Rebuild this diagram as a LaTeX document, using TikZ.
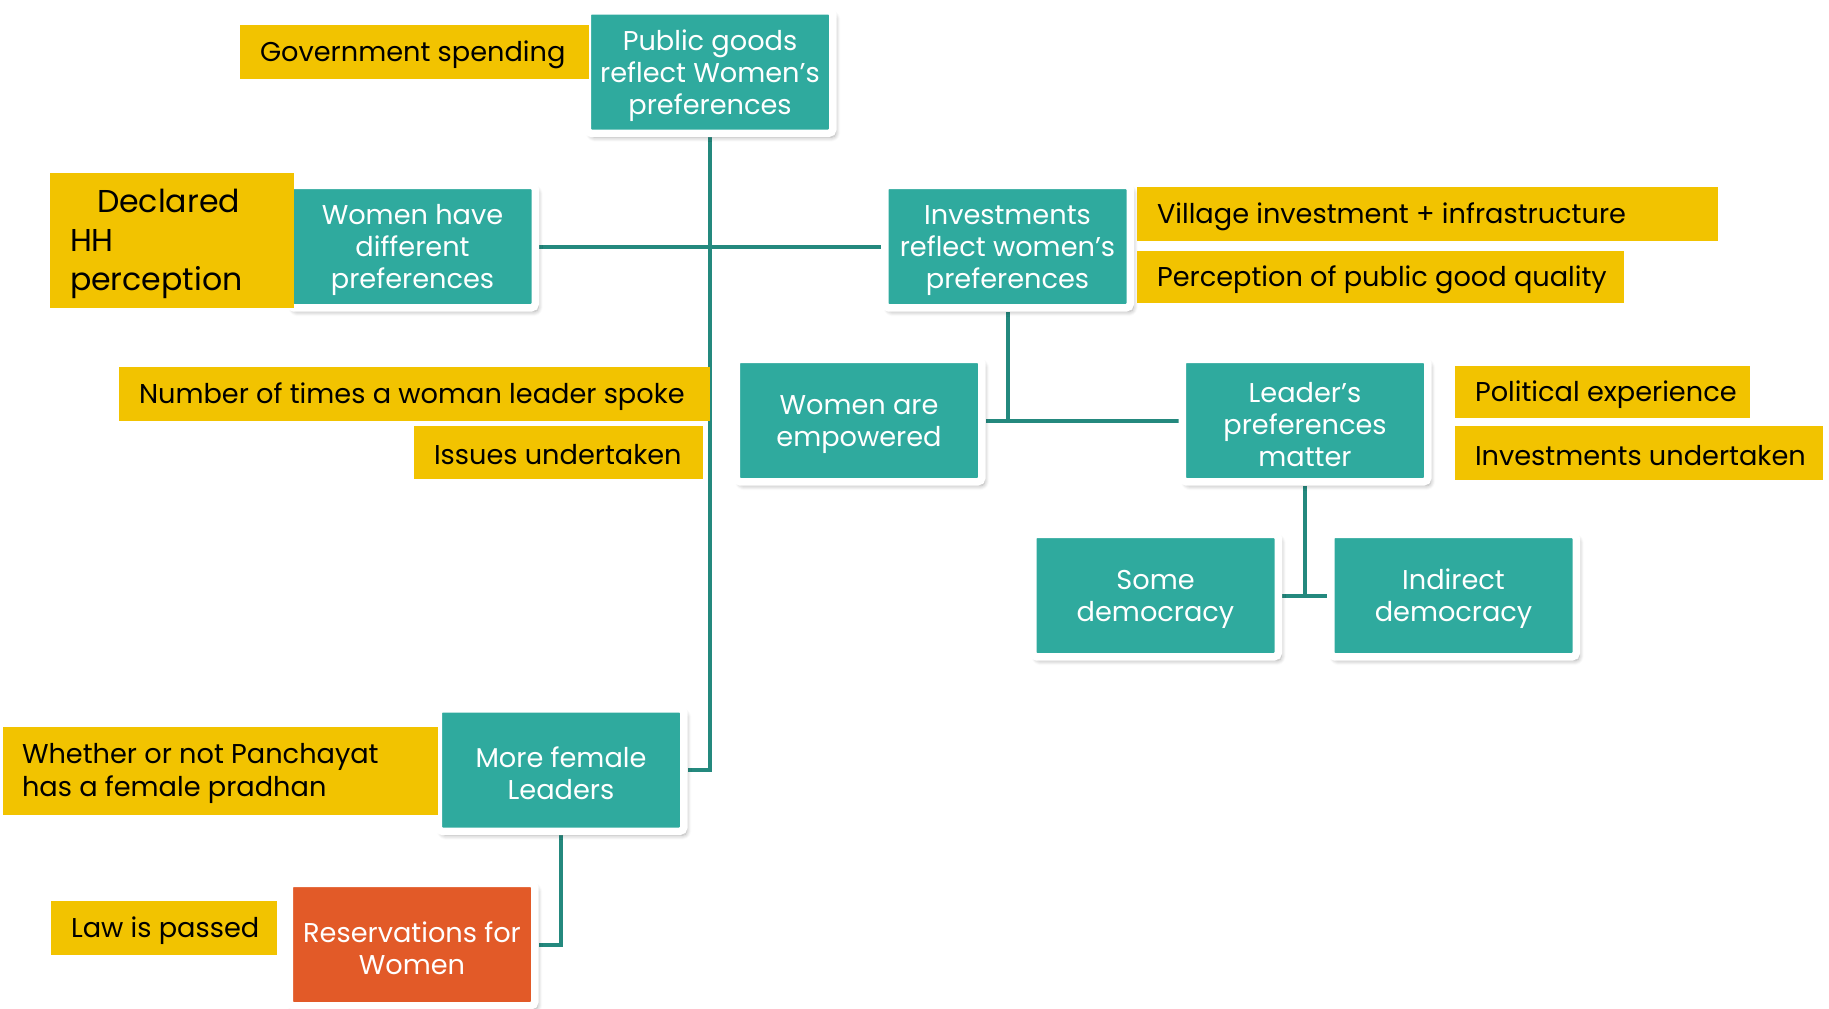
\documentclass[tikz,border=0pt]{standalone}
\usepackage{fontspec}
\setmainfont{Poppins}
\usetikzlibrary{shadows.blur,backgrounds}
\definecolor{boxteal}{RGB}{47,170,158}
\definecolor{linkteal}{RGB}{36,137,126}
\definecolor{tagyellow}{RGB}{242,195,0}
\definecolor{boxorange}{RGB}{226,90,40}
\tikzset{
  concept/.style={fill=boxteal, draw=white, line width=3.75pt, rounded corners=2pt,
    minimum width=122.75pt, minimum height=61.25pt, inner sep=0pt,
    blur shadow={shadow xshift=1.5pt, shadow yshift=-2pt, shadow blur steps=6, shadow opacity=35}},
  policy/.style={concept, fill=boxorange},
  ctext/.style={text=white, align=center, inner sep=0pt, yshift=-1.8pt,
    font=\fontsize{13.6}{16}\selectfont},
  tag/.style={fill=tagyellow, inner sep=0pt},
  tagtext/.style={anchor=west, xshift=10pt, yshift=-1.2pt, inner sep=0pt, align=left,
    text=black, font=\fontsize{13.6}{16.3}\selectfont},
  link/.style={draw=linkteal, line width=2pt}
}
\begin{document}
\begin{tikzpicture}[x=0.5pt, y=-0.5pt]
\useasboundingbox (0,0) rectangle (1829,1008);

% outcome chain boxes
\node[concept, label={[ctext]center:Public goods\\reflect Women’s\\preferences}] (pg) at (710,72) {};
\node[concept, label={[ctext]center:Women have\\different\\preferences}] (whd) at (412.5,246.5) {};
\node[concept, label={[ctext]center:Investments\\reflect women’s\\preferences}] (inv) at (1007.5,246.5) {};
\node[concept, label={[ctext]center:Women are\\empowered}] (emp) at (859,420.5) {};
\node[concept, label={[ctext]center:Leader’s\\preferences\\matter}] (lead) at (1305,420.5) {};
\node[concept, label={[ctext]center:Some\\democracy}] (some) at (1155.5,595.5) {};
\node[concept, label={[ctext]center:Indirect\\democracy}] (ind) at (1453.5,595.5) {};
\node[concept, label={[ctext]center:More female\\Leaders}] (mf) at (561,770) {};
\node[policy, label={[ctext]center:Reservations for\\Women}] (res) at (412,944.5) {};

% connectors behind the boxes
\begin{pgfonlayer}{background}
\draw[link] (pg.south) |- (mf.east);
\draw[link] (whd.east) -- (inv.west);
\draw[link] (inv.south) -- (inv.south |- emp.east);
\draw[link] (emp.east) -- (lead.west);
\draw[link] (lead.south) -- (lead.south |- some.east);
\draw[link] (some.east) -- (ind.west);
\draw[link] (mf.south) |- (res.east);
\end{pgfonlayer}

% measurement tags
\node[tag, minimum width=174.5pt, minimum height=27pt,
  label={[tagtext]west:Government spending}] (tgov) at (414.5,52) {};
\node[tag, minimum width=122pt, minimum height=67.5pt,
  label={[tagtext, yshift=-0.5pt, font=\fontsize{15.8}{19.5}\selectfont]west:\hspace*{13.5pt}Declared\\HH\\perception}] (thh) at (172,240.5) {};
\node[tag, minimum width=290.5pt, minimum height=27pt,
  label={[tagtext]west:Village investment + infrastructure}] (tvil) at (1427.5,214) {};
\node[tag, minimum width=243.5pt, minimum height=26pt,
  label={[tagtext]west:Perception of public good quality}] (tper) at (1380.5,277) {};
\node[tag, minimum width=295.5pt, minimum height=27pt,
  label={[tagtext]west:Number of times a woman leader spoke}] (tnum) at (414.5,394) {};
\node[tag, minimum width=144.5pt, minimum height=26.5pt,
  label={[tagtext]west:Issues undertaken}] (tiss) at (558.5,452.5) {};
\node[tag, minimum width=147.5pt, minimum height=26pt,
  label={[tagtext]west:Political experience}] (tpol) at (1602.5,392) {};
\node[tag, minimum width=184pt, minimum height=27pt,
  label={[tagtext]west:Investments undertaken}] (tinv) at (1639,453) {};
\node[tag, minimum width=217.5pt, minimum height=44pt,
  label={[tagtext, xshift=-0.5pt]west:Whether or not Panchayat\\has a female pradhan}] (twh) at (220.5,771) {};
\node[tag, minimum width=113pt, minimum height=27pt,
  label={[tagtext]west:Law is passed}] (tlaw) at (164,928) {};
\end{tikzpicture}
\end{document}
